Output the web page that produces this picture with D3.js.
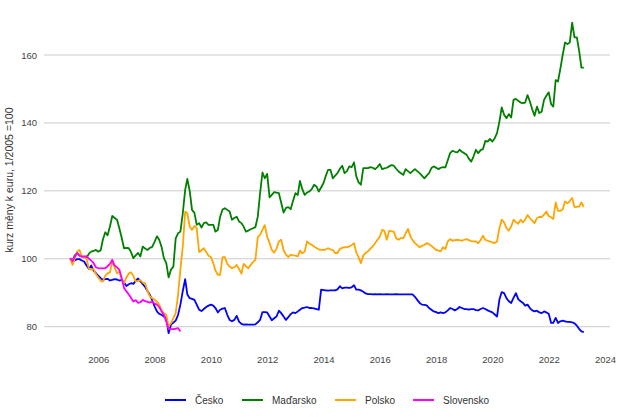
<!DOCTYPE html>
<html><head><meta charset="utf-8">
<script src="https://cdn.jsdelivr.net/npm/d3@7"></script>
<style>
body{margin:0;background:#fff;}
text{font-family:"Liberation Sans",Arial,sans-serif;}
</style></head>
<body><svg id="c" width="626" height="417"></svg>
<script>
const startMonth = "2005-01";
const seriesNames = ["Česko","Maďarsko","Polsko","Slovensko"];
const seriesColors = ["#0000ff","#008000","#ffa500","#ff00ff"];
const yTicks = [80,100,120,140,160];
const xTickYears = [2006,2008,2010,2012,2014,2016,2018,2020,2022,2024];
const yLabel = "kurz měny k euru, 1/2005 =100";

const cesko = [
100.0,99.2,99.5,99.9,99.9,99.5,99.2,98.0,97.0,98.0,96.5,95.8,
95.0,94.3,93.8,94.0,94.1,93.6,93.8,94.0,93.9,93.6,93.8,93.0,
92.0,92.5,92.8,92.6,93.5,94.2,93.3,92.5,91.7,90.5,89.4,87.8,
86.0,84.5,83.8,83.5,83.0,82.5,78.1,80.6,81.2,81.8,83.5,86.5,
90.5,94.0,89.5,88.4,88.2,87.9,86.5,85.0,84.6,85.2,85.8,86.2,
86.5,86.2,85.5,84.2,85.0,85.3,85.5,83.5,82.0,81.6,82.0,83.2,
81.5,80.8,80.6,80.7,80.6,80.6,80.6,80.7,81.3,82.0,84.3,84.3,
84.2,83.0,81.9,82.5,83.0,84.7,84.0,83.0,82.0,82.8,83.7,84.2,
84.0,84.5,85.0,85.5,85.6,85.8,85.5,85.5,85.4,85.2,85.0,90.9,
90.8,90.7,90.6,90.7,90.7,90.7,91.0,91.9,91.3,91.5,91.5,91.4,
91.6,92.2,90.9,90.9,90.7,90.3,89.8,89.6,89.6,89.5,89.6,89.5,
89.6,89.5,89.5,89.6,89.5,89.5,89.5,89.6,89.5,89.5,89.5,89.5,
89.5,89.5,89.5,88.8,87.9,87.0,86.5,86.4,86.3,85.5,85.0,84.5,
84.3,84.0,84.2,84.0,84.2,84.8,85.5,85.2,84.8,85.2,85.8,85.5,
85.2,85.2,85.0,85.2,85.2,84.9,84.8,85.2,85.5,85.2,84.8,84.5,
84.2,83.6,83.0,88.0,90.2,89.9,88.4,87.5,87.0,88.5,89.9,88.1,
87.5,87.0,86.2,86.5,85.5,84.8,84.5,84.7,84.2,84.0,84.5,84.2,
83.8,81.1,81.1,82.6,81.1,81.6,81.8,81.6,81.4,81.4,81.3,81.0,
80.3,79.3,78.6,78.4];

const madarsko = [
100.0,99.5,101.0,101.7,101.0,100.7,100.5,100.3,101.5,102.1,102.3,102.6,
102.1,102.5,105.6,107.8,106.9,109.5,112.6,112.0,111.5,109.0,106.1,103.1,
103.2,103.1,102.0,100.2,101.0,101.7,100.7,103.6,103.0,102.6,103.2,103.5,
105.0,106.6,105.6,103.5,100.2,98.7,94.5,96.8,97.7,106.0,107.5,108.0,
113.4,120.3,123.5,120.0,114.4,113.5,110.0,110.5,109.2,110.5,110.7,110.0,
110.0,110.0,108.0,108.5,112.4,114.5,114.9,114.4,113.9,111.5,112.0,112.4,
111.0,110.5,109.5,108.0,108.3,108.7,109.0,109.3,112.4,119.3,125.4,123.7,
125.0,118.1,118.8,119.6,119.5,119.3,116.5,113.6,115.0,115.2,114.6,117.0,
119.3,118.8,122.9,120.5,118.8,119.5,119.8,120.5,121.8,121.3,119.8,121.0,
122.3,124.5,126.2,126.2,123.7,124.5,125.2,126.5,127.4,125.2,125.8,127.2,
127.0,128.4,124.4,122.5,121.8,126.7,126.7,126.7,127.0,126.8,126.4,127.0,
127.9,126.4,126.6,126.8,127.2,127.6,127.4,126.5,125.7,125.2,124.7,126.4,
125.8,125.2,125.8,126.4,125.8,125.2,124.5,123.7,124.5,125.2,126.7,127.2,
126.8,126.4,126.8,127.0,126.9,129.0,131.1,131.8,131.5,131.3,132.1,131.5,
131.1,130.6,129.5,128.6,130.1,132.1,131.1,132.0,132.3,134.7,134.5,135.3,
134.5,135.5,137.0,140.4,144.6,142.4,141.4,142.6,141.6,146.8,147.1,146.5,
146.0,145.8,146.0,148.2,146.3,144.0,142.1,144.8,142.9,143.3,146.8,148.0,
149.0,145.5,144.8,152.6,152.2,156.0,160.0,163.7,163.2,163.7,169.5,165.2,
165.2,161.0,156.3,156.3];

const polsko = [
100.2,98.2,100.0,102.1,102.6,100.8,100.3,100.0,97.0,96.8,97.0,95.5,
94.5,93.5,93.3,95.0,95.7,96.0,99.2,97.5,95.7,96.3,94.0,92.8,
94.5,95.7,96.0,95.0,93.3,93.5,93.7,93.0,92.8,90.5,88.9,88.4,
88.0,87.3,86.5,84.8,84.0,83.5,80.1,81.0,82.5,84.0,89.4,96.8,
103.6,113.9,113.4,109.5,108.5,109.7,109.0,102.0,102.5,103.1,102.0,100.9,
100.5,98.7,96.5,95.3,95.3,100.5,100.5,98.5,97.7,97.2,97.5,98.2,
97.0,95.6,98.5,97.8,97.2,98.2,99.0,99.7,106.4,107.1,108.5,109.9,
106.5,104.6,102.6,101.8,103.0,105.1,105.6,102.5,101.2,100.5,101.2,101.0,
100.9,100.7,102.4,101.6,102.1,105.1,104.5,104.1,103.6,103.2,102.8,102.6,
102.6,102.8,103.1,102.8,102.6,101.7,101.7,102.9,103.2,103.4,103.4,103.6,
104.0,104.6,101.9,100.5,98.7,101.0,101.7,102.2,103.0,103.6,104.6,105.6,
106.5,108.5,108.2,105.6,108.2,108.1,108.0,106.0,105.6,106.1,106.1,107.5,
108.8,106.6,105.5,104.6,104.0,103.4,103.8,104.1,104.6,104.3,103.8,103.2,
102.6,102.4,102.2,103.4,102.9,105.1,105.8,105.3,105.5,105.6,105.5,105.3,
105.6,105.8,105.5,105.2,105.1,105.1,104.6,105.5,106.8,105.6,105.3,105.1,
104.8,104.6,105.1,109.0,111.5,110.7,109.0,108.3,109.5,111.5,110.8,110.3,
111.5,110.7,111.5,112.9,112.0,111.2,110.5,112.0,112.3,112.3,113.0,113.9,
112.6,112.2,111.7,116.6,114.1,114.1,114.5,116.9,116.3,117.0,117.9,115.2,
115.3,115.4,116.6,115.2];

const slovensko = [
100.2,99.4,100.5,101.7,100.9,100.6,100.7,100.8,100.0,99.5,98.7,97.5,
97.2,97.2,97.2,97.2,97.8,98.5,99.7,98.0,97.5,96.8,94.3,91.4,
90.4,89.5,88.5,87.4,87.8,87.0,87.2,87.9,87.5,87.3,87.1,87.4,
86.8,86.5,85.8,84.5,83.5,81.5,79.3,79.3,79.3,79.4,79.6,78.6];

const seriesValues = [cesko, madarsko, polsko, slovensko];

const svg = d3.select("#c");
const start = d3.timeParse("%Y-%m")(startMonth);

const x = d3.scaleTime()
  .domain([new Date(2006,0,1), new Date(2024,0,1)])
  .range([98.3, 605]);
const y = d3.scaleLinear().domain([80,160]).range([326.7, 55]);

const plotLeft = 44, plotRight = 610;

// gridlines
svg.append("g").selectAll("line").data(yTicks).join("line")
  .attr("x1", plotLeft).attr("x2", plotRight)
  .attr("y1", d=>y(d)).attr("y2", d=>y(d))
  .attr("stroke", "#cccccc").attr("stroke-width", 1);

// y axis labels
const yAxis = d3.axisLeft(y).tickValues(yTicks).tickSize(0).tickPadding(0);
const gy = svg.append("g").attr("transform", "translate(37,0)").call(yAxis);
gy.select(".domain").remove();
gy.selectAll("text").attr("font-size", 9.5).attr("fill", "#444")
  .attr("font-family", "'Liberation Sans',Arial,sans-serif");

// x axis labels
const xAxis = d3.axisBottom(x)
  .tickValues(xTickYears.map(yr => new Date(yr,0,1)))
  .tickFormat(d3.timeFormat("%Y")).tickSize(0).tickPadding(0);
const gx = svg.append("g").attr("transform", "translate(0,356)").call(xAxis);
gx.select(".domain").remove();
gx.selectAll("text").attr("font-size", 9.5).attr("fill", "#444")
  .attr("font-family", "'Liberation Sans',Arial,sans-serif");

// y title
svg.append("text")
  .attr("transform", "translate(13,180) rotate(-90)")
  .attr("text-anchor", "middle")
  .attr("font-size", 10.5).attr("fill", "#333")
  .text(yLabel);

// lines
const line = d3.line()
  .x((d,i)=>x(d3.timeMonth.offset(start, i)))
  .y(d=>y(d));

seriesValues.forEach((vals, k) => {
  svg.append("path").datum(vals)
    .attr("fill", "none")
    .attr("stroke", seriesColors[k])
    .attr("stroke-width", 1.8)
    .attr("stroke-linejoin", "round")
    .attr("d", line);
});

// legend
const legX = [165, 242, 335, 413];
const lg = svg.append("g");
seriesNames.forEach((n,k)=>{
  lg.append("line").attr("x1", legX[k]).attr("x2", legX[k]+21)
    .attr("y1", 400).attr("y2", 400)
    .attr("stroke", seriesColors[k]).attr("stroke-width", 2);
  lg.append("text").attr("x", legX[k]+30).attr("y", 403.5)
    .attr("font-size", 10).attr("fill", "#333").text(n);
});
</script></body></html>
